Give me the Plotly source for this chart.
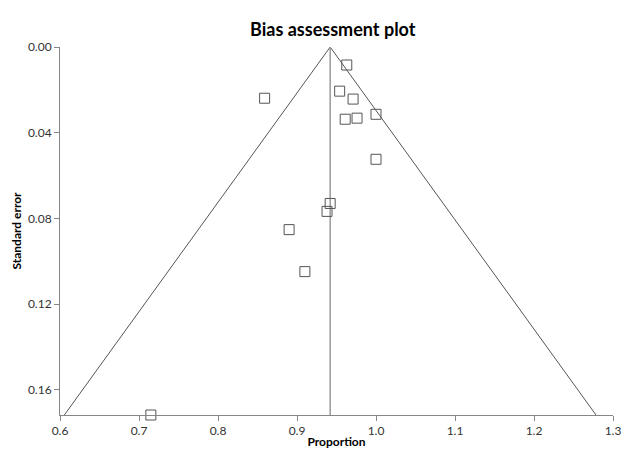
import plotly.graph_objects as go

# Study estimates (proportion, standard error)
proportions = [0.859, 0.963, 0.954, 0.971, 0.961, 0.976, 1.000, 1.000,
               0.942, 0.938, 0.890, 0.910, 0.715]
std_errors = [0.0239, 0.0084, 0.0206, 0.0243, 0.0337, 0.0332, 0.0314, 0.0524,
              0.0730, 0.0767, 0.0852, 0.1048, 0.1717]

pooled = 0.942
se_max = 0.1717
funnel_x = [0.6055, 0.942, 1.2785]
funnel_y = [0.1717, 0.0, 0.1717]
center_x = [0.942, 0.942]
center_y = [0.0, 0.1717]

x_ticks = [0.6, 0.7, 0.8, 0.9, 1.0, 1.1, 1.2, 1.3]
y_ticks = [0.00, 0.04, 0.08, 0.12, 0.16]

font_family = "Lato, Open Sans, Liberation Sans, Arial, sans-serif"

fig = go.Figure()
fig.add_trace(go.Scatter(x=funnel_x, y=funnel_y, mode="lines",
                         line=dict(color="#555555", width=1), hoverinfo="skip"))
fig.add_trace(go.Scatter(x=center_x, y=center_y, mode="lines",
                         line=dict(color="#9a9a9a", width=1.5), hoverinfo="skip"))
fig.add_trace(go.Scatter(x=proportions, y=std_errors, mode="markers",
                         marker=dict(symbol="square-open", size=10, color="#555555",
                                     line=dict(width=1, color="#555555")),
                         cliponaxis=False))

fig.update_layout(
    width=622, height=449,
    margin=dict(l=60, r=9, t=47, b=34, autoexpand=False),
    paper_bgcolor="white", plot_bgcolor="white",
    showlegend=False,
    title=dict(text="<b>Bias assessment plot</b>", xref="container", x=0.535,
               xanchor="center", yref="container", y=0.933, yanchor="middle",
               font=dict(family=font_family, size=18, color="#000000")),
    font=dict(family=font_family, size=12, color="#333333"),
)
fig.update_xaxes(range=[0.6, 1.3], tickvals=x_ticks, tickformat=".1f",
                 automargin=False,
                 showgrid=False, zeroline=False, showline=True,
                 linecolor="#868686", linewidth=1, ticks="outside",
                 ticklen=5, tickcolor="#868686",
                 tickfont=dict(size=12, color="#333333"),
                 title=dict(text="<b>Proportion</b>", standoff=3,
                            font=dict(size=12, color="#000000")))
fig.update_yaxes(range=[se_max, 0], tickvals=y_ticks, tickformat=".2f",
                 automargin=False,
                 showgrid=False, zeroline=False, showline=True,
                 linecolor="#868686", linewidth=1, ticks="outside",
                 ticklen=5, tickcolor="#868686",
                 tickfont=dict(size=12, color="#333333"),
                 title=dict(text="<b>Standard error</b>", standoff=3,
                            font=dict(size=12, color="#000000")))

fig.write_html("out.html", config={"displayModeBar": False},
               post_script="document.body.style.margin='0';document.body.style.overflow='hidden';")
